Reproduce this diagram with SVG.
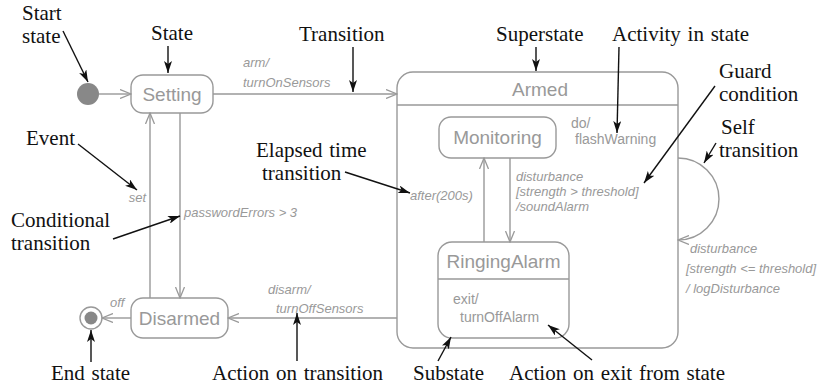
<svg xmlns="http://www.w3.org/2000/svg" width="834" height="387" viewBox="0 0 834 387">
<style>
.n{fill:#fff;stroke:#999;stroke-width:1.4}
.c{fill:none;stroke:#999;stroke-width:1.4}
.a{fill:none;stroke:#111;stroke-width:1.4}
.st{font-family:"Liberation Sans",Arial,sans-serif;font-size:19px;fill:#999}
.lb{font-family:"Liberation Sans",Arial,sans-serif;font-size:13px;fill:#999;font-style:italic}
.lr{font-family:"Liberation Sans",Arial,sans-serif;font-size:14px;fill:#999}
.an{font-family:"Liberation Serif","Times New Roman",serif;font-size:21px;fill:#111;word-spacing:1.5px}
</style>
<defs>
<marker id="open" viewBox="0 0 12 10" refX="11" refY="5" markerWidth="12" markerHeight="10" markerUnits="userSpaceOnUse" orient="auto"><path d="M0,0.5 L11,5 L0,9.5" fill="none" stroke="#999" stroke-width="1.3"/></marker>
<marker id="blk" viewBox="0 0 12 8" refX="12" refY="4" markerWidth="12" markerHeight="8" markerUnits="userSpaceOnUse" orient="auto"><path d="M0,0 L12,4 L0,8 L3,4 z" fill="#111"/></marker>
</defs>

<g id="start"><circle cx="88" cy="94" r="11" fill="#888"/></g>
<g id="setting"><rect class="n" x="131" y="75" width="82" height="38" rx="12"/><text class="st" x="172" y="101" text-anchor="middle">Setting</text></g>
<g id="disarmed"><rect class="n" x="131" y="298" width="97" height="40" rx="12"/><text class="st" x="179.5" y="325" text-anchor="middle">Disarmed</text></g>
<g id="end"><circle cx="91" cy="318" r="11" fill="#fff" stroke="#999" stroke-width="1.4"/><circle cx="91" cy="318" r="6.5" fill="#888"/></g>
<g id="armed"><rect class="n" x="397" y="72" width="281" height="276" rx="16"/><line class="c" x1="397" y1="105" x2="678" y2="105"/><text class="st" x="540" y="96" text-anchor="middle">Armed</text>
<text class="lr" x="571" y="128">do/</text><text class="lr" x="575" y="144">flashWarning</text></g>
<g id="monitoring"><rect class="n" x="439" y="117" width="117" height="41" rx="12"/><text class="st" x="497.5" y="144" text-anchor="middle">Monitoring</text></g>
<g id="ringing"><rect class="n" x="438" y="242" width="131" height="96" rx="14"/><line class="c" x1="438" y1="279" x2="569" y2="279"/><text class="st" x="503.5" y="268" text-anchor="middle">RingingAlarm</text>
<text class="lr" x="453" y="304">exit/</text><text class="lr" x="460" y="322">turnOffAlarm</text></g>

<g id="connectors">
<line class="c" x1="99" y1="94" x2="131" y2="94" marker-end="url(#open)"/>
<line class="c" x1="213" y1="94" x2="397" y2="94" marker-end="url(#open)"/>
<line class="c" x1="150" y1="298" x2="150" y2="113" marker-end="url(#open)"/>
<line class="c" x1="180" y1="113" x2="180" y2="298" marker-end="url(#open)"/>
<line class="c" x1="131" y1="318" x2="102" y2="318" marker-end="url(#open)"/>
<line class="c" x1="397" y1="318" x2="228" y2="318" marker-end="url(#open)"/>
<line class="c" x1="484" y1="242" x2="484" y2="158" marker-end="url(#open)"/>
<line class="c" x1="510" y1="158" x2="510" y2="242" marker-end="url(#open)"/>
<path class="c" d="M678,158 A41,41 0 0 1 678,240" marker-end="url(#open)"/>
<text class="lb" x="243" y="67">arm/</text>
<text class="lb" x="243" y="87">turnOnSensors</text>
<text class="lb" x="146" y="202" text-anchor="end">set</text>
<text class="lb" x="184" y="217">passwordErrors &gt; 3</text>
<text class="lb" x="110" y="307">off</text>
<text class="lb" x="268" y="294">disarm/</text>
<text class="lb" x="276" y="313">turnOffSensors</text>
<text class="lb" x="410" y="200">after(200s)</text>
<text class="lb" x="516" y="181">disturbance</text>
<text class="lb" x="516" y="196">[strength &gt; threshold]</text>
<text class="lb" x="516" y="211">/soundAlarm</text>
<text class="lb" x="690" y="253">disturbance</text>
<text class="lb" x="686" y="273">[strength &lt;= threshold]</text>
<text class="lb" x="686" y="293">/ logDisturbance</text>
</g>

<g id="annotations">
<text class="an" x="22" y="20">Start</text><text class="an" x="22" y="43">state</text>
<line class="a" x1="63" y1="31" x2="88" y2="82" marker-end="url(#blk)"/>
<text class="an" x="151" y="40">State</text>
<line class="a" x1="168" y1="46" x2="168" y2="73" marker-end="url(#blk)"/>
<text class="an" x="299" y="41">Transition</text>
<line class="a" x1="353" y1="47" x2="353" y2="92" marker-end="url(#blk)"/>
<text class="an" x="496" y="41">Superstate</text>
<line class="a" x1="536" y1="47" x2="536" y2="71" marker-end="url(#blk)"/>
<text class="an" x="612" y="41">Activity in state</text>
<line class="a" x1="619" y1="47" x2="617" y2="133" marker-end="url(#blk)"/>
<text class="an" x="719" y="78">Guard</text><text class="an" x="719" y="101">condition</text>
<line class="a" x1="715" y1="86" x2="644" y2="183" marker-end="url(#blk)"/>
<text class="an" x="721" y="134">Self</text><text class="an" x="719" y="157">transition</text>
<line class="a" x1="716" y1="143" x2="704" y2="163" marker-end="url(#blk)"/>
<text class="an" x="26" y="145">Event</text>
<line class="a" x1="78" y1="144" x2="137" y2="190" marker-end="url(#blk)"/>
<text class="an" x="11" y="227">Conditional</text><text class="an" x="11" y="250">transition</text>
<line class="a" x1="113" y1="239" x2="180" y2="216" marker-end="url(#blk)"/>
<text class="an" x="256" y="157">Elapsed time</text><text class="an" x="262" y="180">transition</text>
<line class="a" x1="345" y1="172" x2="410" y2="193" marker-end="url(#blk)"/>
<text class="an" x="51" y="380">End state</text>
<line class="a" x1="91" y1="362" x2="91" y2="330" marker-end="url(#blk)"/>
<text class="an" x="212" y="380">Action on transition</text>
<line class="a" x1="297" y1="361" x2="297" y2="313" marker-end="url(#blk)"/>
<text class="an" x="413" y="380">Substate</text>
<line class="a" x1="438" y1="361" x2="451" y2="337" marker-end="url(#blk)"/>
<text class="an" x="509" y="380">Action on exit from state</text>
<line class="a" x1="592" y1="360" x2="548" y2="325" marker-end="url(#blk)"/>
</g>
</svg>
